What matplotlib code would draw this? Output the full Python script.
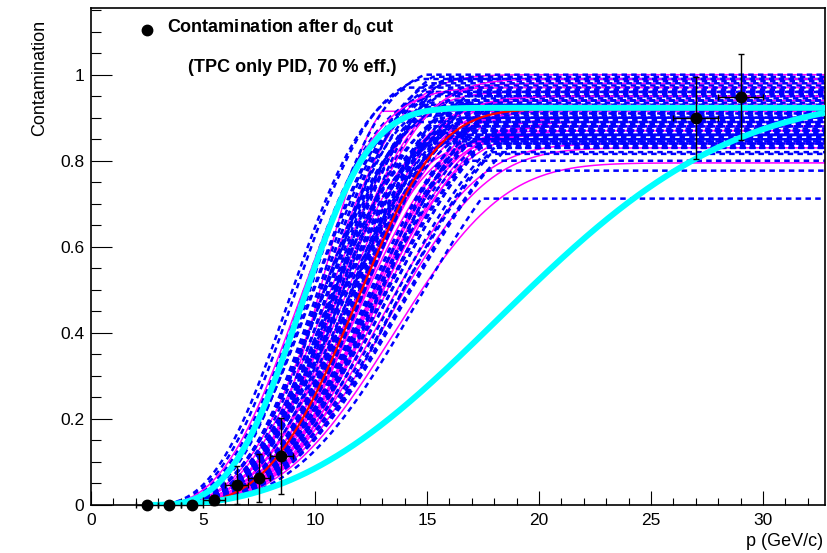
import numpy as np
import matplotlib
matplotlib.use("Agg")
import matplotlib.pyplot as plt

plt.rcParams['font.family'] = ['Liberation Sans', 'DejaVu Sans']
plt.rcParams['mathtext.fontset'] = 'custom'
plt.rcParams['mathtext.rm'] = 'Liberation Sans'
plt.rcParams['mathtext.bf'] = 'Liberation Sans:bold'

# measured contamination after d0 cut
p_data = [2.5, 3.5, 4.5, 5.5, 6.5, 7.5, 8.5, 27.0, 29.0]
c_data = [0.0, 0.0, 0.0, 0.012, 0.047, 0.063, 0.114, 0.90, 0.949]
p_err = [0.5, 0.5, 0.5, 0.5, 0.5, 0.5, 0.5, 1.0, 1.0]
c_err = [0.0, 0.0, 0.0, 0.012, 0.044, 0.056, 0.088, 0.095, 0.10]

# fit curves: plateau, scale, shape, knee (knee > 1 gives a sharp turn onto the plateau)
blue_plateau = [0.97, 0.99, 0.93, 1.00, 0.96, 0.95, 0.98, 0.91,
                0.995, 0.985, 0.975, 0.965, 0.955, 0.945, 0.94, 0.935, 0.93, 0.925, 0.92, 0.915,
                0.91, 0.905, 0.90, 0.895, 0.89, 0.885, 0.88, 0.875, 0.87, 0.865, 0.86, 0.855,
                0.85, 0.845, 0.84, 0.99, 0.96, 0.94, 0.92, 0.90, 0.88, 0.86,
                0.97, 0.95, 0.93, 0.92, 0.90, 0.89, 0.88, 0.87, 0.86, 0.85, 0.845, 0.84,
                0.835, 0.83, 0.96, 0.94, 0.91, 0.87,
                0.82, 0.816, 0.80, 0.777, 0.712, 0.84, 0.83, 0.86]
blue_scale = [7.4, 7.6, 7.8, 8.2, 8.3, 8.4, 8.5, 8.6,
              9.1, 8.7, 9.8, 9.3, 8.9, 10.1, 9.5, 8.6, 9.9, 9.2, 8.8, 10.3,
              9.6, 9.0, 9.4, 10.0, 8.7, 9.7, 9.1, 8.9, 10.2, 9.3, 9.8, 8.8,
              9.5, 10.1, 9.0, 9.6, 9.2, 9.9, 8.6, 9.4, 10.0, 9.7,
              10.4, 11.0, 10.6, 11.3, 10.3, 11.6, 10.8, 10.5, 11.2, 10.7, 11.8, 11.1,
              10.5, 11.5, 10.4, 10.9, 11.7, 11.3,
              12.2, 12.6, 12.0, 12.8, 13.5, 12.4, 13.0, 11.9]
blue_shape = [2.8, 2.9, 3.0, 3.3, 3.1, 3.4, 3.0, 3.2,
              3.5, 3.3, 3.7, 3.4, 3.2, 3.6, 3.5, 3.3, 3.8, 3.4, 3.5, 3.7,
              3.3, 3.6, 3.4, 3.5, 3.2, 3.7, 3.4, 3.3, 3.6, 3.5, 3.8, 3.4,
              3.3, 3.5, 3.6, 3.4, 3.7, 3.2, 3.5, 3.3, 3.6, 3.4,
              3.5, 3.4, 3.6, 3.3, 3.7, 3.4, 3.5, 3.6, 3.3, 3.5, 3.2, 3.4,
              3.6, 3.3, 3.5, 3.4, 3.2, 3.5,
              3.3, 3.2, 3.3, 3.2, 3.3, 3.4, 3.2, 3.3]
blue_knee = [1.03, 1.02, 1.04, 1.02, 1.03, 1.02, 1.04, 1.03,
             1.04, 1.02, 1.06, 1.03, 1.05, 1.02, 1.04, 1.05, 1.03, 1.06, 1.02, 1.05,
             1.03, 1.06, 1.02, 1.04, 1.06, 1.03, 1.05, 1.02, 1.05, 1.03, 1.06, 1.02,
             1.04, 1.06, 1.03, 1.05, 1.02, 1.05, 1.03, 1.06, 1.02, 1.04,
             1.06, 1.10, 1.05, 1.08, 1.04, 1.12, 1.06, 1.08, 1.10, 1.05, 1.13, 1.07,
             1.06, 1.11, 1.04, 1.08, 1.12, 1.07,
             1.15, 1.18, 1.20, 1.22, 1.33, 1.12, 1.16, 1.10]

magenta_plateau = [1.00, 0.915, 0.98, 0.96, 0.95, 0.94, 0.93, 0.92, 0.915, 0.90, 0.89, 0.88, 0.87,
                   0.86, 0.85, 0.84, 0.97, 0.93, 0.795, 0.90, 0.88, 0.86, 0.99, 0.95, 0.83, 0.87]
magenta_scale = [8.8, 8.3, 9.4, 9.0, 10.6, 9.7, 10.9, 11.1, 10.4, 9.2, 11.3, 10.8, 11.0,
                 10.5, 9.5, 11.5, 7.8, 10.2, 12.3, 11.2, 10.7, 9.9, 9.6, 10.0, 11.8, 10.3]
magenta_shape = [3.3, 4.5, 3.4, 3.3, 3.7, 3.5, 3.6, 3.8, 3.6, 3.4, 3.7, 3.6, 3.5,
                 3.7, 3.5, 3.4, 2.9, 3.5, 3.3, 3.6, 3.7, 3.5, 3.4, 3.4, 3.4, 3.6]
magenta_knee = [1.0, 1.06, 1.0, 1.0, 1.0, 1.0, 1.0, 1.0, 1.0, 1.0, 1.0, 1.0, 1.0,
                1.0, 1.0, 1.0, 1.0, 1.0, 1.0, 1.0, 1.0, 1.0, 1.0, 1.0, 1.0, 1.0]

# red = central fit, cyan = envelope curves
red_par = (0.92, 10.25, 3.6, 1.0)
cyan_par = [(0.923, 7.7, 3.25, 1.0), (0.923, 19.1, 2.53, 0.95 / 0.923)]

p_start = 2.5
x_max = 32.77


def contamination(p, plateau, scale, shape, knee):
    rise = plateau * knee * (1 - np.exp(-((p - p_start) / scale) ** shape))
    return np.minimum(rise, plateau)


p = np.linspace(p_start, x_max, 700)

fig = plt.figure(figsize=(8.27, 5.53), dpi=100)
ax = fig.add_axes([91 / 827, 1 - 505 / 553, (825 - 91) / 827, (505 - 8) / 553])

dash = (0, (2.2, 1.7))
n_curves = max(len(blue_plateau), len(magenta_plateau))
for i in range(n_curves):
    if i < len(blue_plateau):
        ax.plot(p, contamination(p, blue_plateau[i], blue_scale[i], blue_shape[i], blue_knee[i]),
                color='#0000ff', lw=1.8, ls=dash, zorder=2)
    if i < len(magenta_plateau):
        ax.plot(p, contamination(p, magenta_plateau[i], magenta_scale[i], magenta_shape[i], magenta_knee[i]),
                color='#ff00ff', lw=1.1, zorder=2)

ax.plot(p, contamination(p, *red_par), color='#ff0000', lw=1.6, zorder=3)
for par in cyan_par:
    ax.plot(p, contamination(p, *par), color='#00ffff', lw=4.3, zorder=4, solid_capstyle='butt')

ax.errorbar(p_data, c_data, xerr=p_err, yerr=c_err, fmt='o', color='black', ms=7.5,
            elinewidth=1.0, capsize=2.2, capthick=1.0, zorder=5, clip_on=False)

ax.set_xlim(0, x_max)
ax.set_ylim(0, 1.155)
ax.set_xticks(np.arange(0, 31, 5))
ax.set_xticks(np.arange(0, 33, 1), minor=True)
ax.set_yticks([0, 0.2, 0.4, 0.6, 0.8, 1.0])
ax.set_yticks(np.arange(0, 1.16, 0.05), minor=True)
ax.set_yticklabels(['0', '0.2', '0.4', '0.6', '0.8', '1'])
ax.tick_params(axis='x', which='major', direction='in', length=10, width=0.8, labelsize=12.5, pad=6)
ax.tick_params(axis='x', which='minor', direction='in', length=5, width=0.8)
ax.tick_params(axis='y', which='major', direction='in', length=15, width=0.8, labelsize=12.5, pad=5)
ax.tick_params(axis='y', which='minor', direction='in', length=7.5, width=0.8)
for s in ax.spines.values():
    s.set_linewidth(1.2)

fig.text(40 / 827, 1 - 20 / 553, 'Contamination', rotation=90, ha='center', va='top', fontsize=13)
fig.text(823 / 827, 1 - 541 / 553, 'p (GeV/c)', ha='right', va='center', fontsize=13)

fig.lines.append(matplotlib.lines.Line2D([147 / 827], [1 - 30 / 553], marker='o', color='black',
                                         ms=7.5, transform=fig.transFigure))
fig.text(167 / 827, 1 - 27 / 553, r'Contamination after d$_{\mathbf{0}}$ cut', ha='left', va='center',
         fontsize=13, fontweight='bold')
fig.text(188 / 827, 1 - 68 / 553, '(TPC only PID, 70 % eff.)', ha='left', va='center',
         fontsize=13, fontweight='bold')

fig.savefig('out.png', dpi=100)
